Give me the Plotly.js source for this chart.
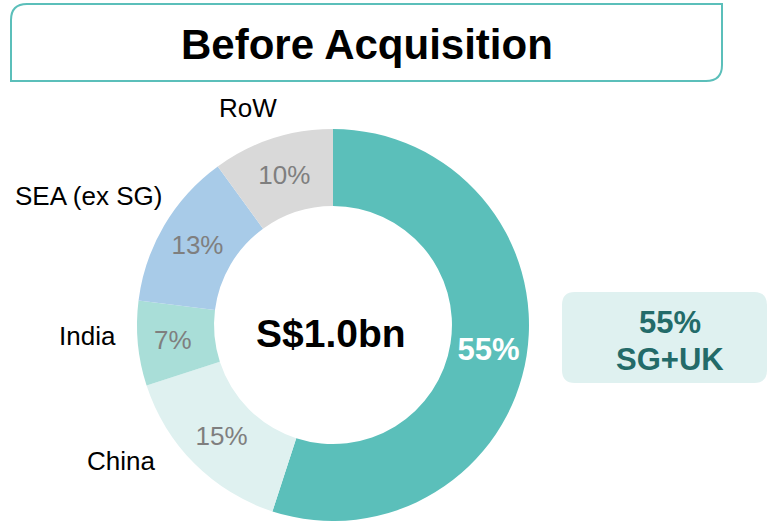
<!DOCTYPE html>
<html>
<head>
<meta charset="utf-8">
<script src="https://cdn.plot.ly/plotly-3.0.1.min.js"></script>
<style>
  html, body { margin: 0; padding: 0; background: #ffffff; }
  #chart { width: 768px; height: 521px; }
</style>
</head>
<body>
<div id="chart"></div>
<script>
// ---- data ----
const regions = ['SG+UK', 'China', 'India', 'SEA (ex SG)', 'RoW'];
const shares = [55, 15, 7, 13, 10];
const sliceColors = ['#5BBFBA', '#DFF1F0', '#A9DED8', '#A8CBE8', '#D9D9D9'];
const chartTitle = 'Before Acquisition';
const totalLabel = 'S$1.0bn';
const highlightShare = '55%';
const highlightName = 'SG+UK';

// ---- helpers ----
const W = 768, H = 521;
const FONT = 'Liberation Sans, Arial, Helvetica, sans-serif';
const px = x => x / W;
const py = y => 1 - y / H;

// donut geometry in pixels (center 333,325 ; radius 196)
const cx = 333, cy = 325, R = 196;
const domX = [px(cx - R), px(cx + R)];
const domY = [Math.max(0, py(cy + R)), py(cy - R)];

const texttemplates = shares.map((v, i) => i === 0 ? '<b>%{value}%</b>' : '%{value}%');
const textColors = shares.map((v, i) => i === 0 ? '#FFFFFF' : '#7F7F7F');
const textSizes = shares.map((v, i) => i === 0 ? 31 : 26);

const trace = {
  type: 'pie',
  labels: regions,
  values: shares,
  sort: false,
  direction: 'clockwise',
  rotation: 0,
  hole: 0.607,
  marker: { colors: sliceColors, line: { width: 0 } },
  texttemplate: texttemplates,
  textposition: 'inside',
  insidetextorientation: 'horizontal',
  textfont: { family: FONT, color: textColors, size: textSizes },
  showlegend: false,
  hoverinfo: 'label+percent',
  domain: { x: domX, y: domY }
};

// outside category labels (name text)
const outsideLabels = [
  { name: regions[4], x: 248, y: 108 },
  { name: regions[3], x: 88, y: 196 },
  { name: regions[2], x: 87, y: 336 },
  { name: regions[1], x: 121, y: 461 }
];

const annotations = outsideLabels.map(l => ({
  xref: 'paper', yref: 'paper', x: px(l.x), y: py(l.y),
  xanchor: 'center', yanchor: 'middle', showarrow: false,
  text: l.name, font: { family: FONT, size: 26, color: '#000000' }
}));

annotations.push({
  xref: 'paper', yref: 'paper', x: px(367), y: py(44),
  xanchor: 'center', yanchor: 'middle', showarrow: false,
  text: '<b>' + chartTitle + '</b>', font: { family: FONT, size: 42, color: '#000000' }
});
annotations.push({
  xref: 'paper', yref: 'paper', x: px(331), y: py(333),
  xanchor: 'center', yanchor: 'middle', showarrow: false,
  text: '<b>' + totalLabel + '</b>', font: { family: FONT, size: 39, color: '#000000' }
});
annotations.push({
  xref: 'paper', yref: 'paper', x: px(670), y: py(322),
  xanchor: 'center', yanchor: 'middle', showarrow: false,
  text: '<b>' + highlightShare + '</b>', font: { family: FONT, size: 31, color: '#236B69' }
});
annotations.push({
  xref: 'paper', yref: 'paper', x: px(670), y: py(359),
  xanchor: 'center', yanchor: 'middle', showarrow: false,
  text: '<b>' + highlightName + '</b>', font: { family: FONT, size: 31, color: '#236B69' }
});

// title box: rounded top-left & bottom-right corners
function titleBoxPath(x0, y0, x1, y1, r) {
  const P = (x, y) => px(x) + ',' + py(y);
  return 'M' + P(x0, y0 + r) +
    ' Q' + P(x0, y0) + ' ' + P(x0 + r, y0) +
    ' L' + P(x1, y0) +
    ' L' + P(x1, y1 - r) +
    ' Q' + P(x1, y1) + ' ' + P(x1 - r, y1) +
    ' L' + P(x0, y1) + ' Z';
}
function roundRectPath(x0, y0, x1, y1, r) {
  const P = (x, y) => px(x) + ',' + py(y);
  return 'M' + P(x0 + r, y0) +
    ' L' + P(x1 - r, y0) + ' Q' + P(x1, y0) + ' ' + P(x1, y0 + r) +
    ' L' + P(x1, y1 - r) + ' Q' + P(x1, y1) + ' ' + P(x1 - r, y1) +
    ' L' + P(x0 + r, y1) + ' Q' + P(x0, y1) + ' ' + P(x0, y1 - r) +
    ' L' + P(x0, y0 + r) + ' Q' + P(x0, y0) + ' ' + P(x0 + r, y0) + ' Z';
}

const shapes = [
  {
    type: 'path', xref: 'paper', yref: 'paper', layer: 'below',
    path: titleBoxPath(11, 4, 722, 81, 16),
    line: { color: '#5BBFBA', width: 2 }, fillcolor: 'rgba(0,0,0,0)'
  },
  {
    type: 'path', xref: 'paper', yref: 'paper', layer: 'below',
    path: roundRectPath(562, 292, 767, 383, 13),
    line: { width: 0 }, fillcolor: '#DFF1F0'
  }
];

const layout = {
  width: W, height: H,
  margin: { l: 0, r: 0, t: 0, b: 0 },
  paper_bgcolor: '#FFFFFF',
  plot_bgcolor: '#FFFFFF',
  font: { family: FONT },
  annotations: annotations,
  shapes: shapes,
  uniformtext: { mode: false }
};

Plotly.newPlot('chart', [trace], layout, { displayModeBar: false, staticPlot: true });
</script>
</body>
</html>
